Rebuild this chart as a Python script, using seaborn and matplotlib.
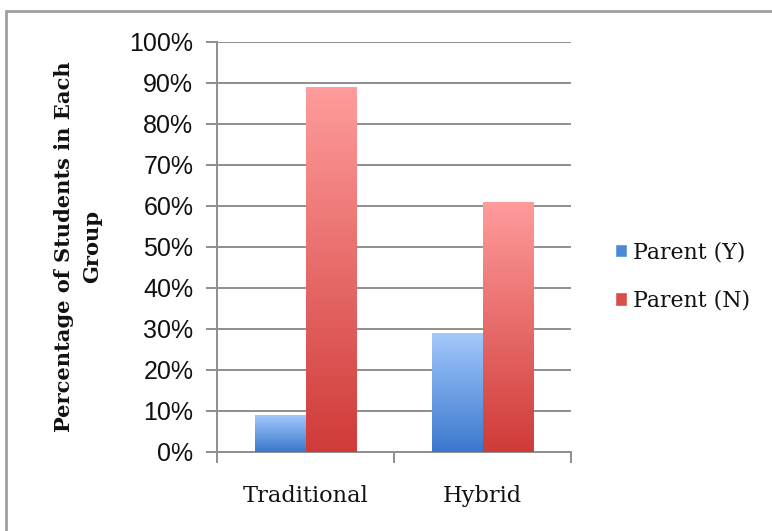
import numpy as np
import pandas as pd
import matplotlib
matplotlib.use("Agg")
import matplotlib.pyplot as plt
from matplotlib.patches import Patch
from matplotlib.lines import Line2D
from matplotlib.colors import LinearSegmentedColormap
from matplotlib.ticker import FuncFormatter, FixedLocator
import seaborn as sns

groups = ["Traditional", "Hybrid"]
series = ["Parent (Y)", "Parent (N)"]
parent_y = [9, 29]
parent_n = [89, 61]

df = pd.DataFrame({
    "group": groups * 2,
    "series": [series[0]] * 2 + [series[1]] * 2,
    "pct": parent_y + parent_n,
})

# top colour, bottom colour for the gradient fills
grad = {
    series[0]: ("#a3c8fb", "#3a78cd"),
    series[1]: ("#ff9c9c", "#cf3b38"),
}

sns.set_style("white")
fig = plt.figure(figsize=(7.72, 5.31), dpi=100)
ax = fig.add_axes([0.281, 0.149, 0.459, 0.772])

sns.barplot(data=df, x="group", y="pct", hue="series", order=groups,
            hue_order=series, width=0.575, gap=0, ax=ax, legend=False,
            palette=[grad[s][1] for s in series], saturation=1)

# swap flat fills for vertical gradients
for patch, s in zip(ax.patches, [series[0]] * 2 + [series[1]] * 2):
    x0, y0 = patch.get_x(), patch.get_y()
    w, h = patch.get_width(), patch.get_height()
    cmap = LinearSegmentedColormap.from_list("g", [grad[s][1], grad[s][0]])
    img = ax.imshow(np.linspace(0, 1, 256).reshape(-1, 1), cmap=cmap,
                    extent=[x0, x0 + w, y0, y0 + h], origin="lower",
                    aspect="auto", zorder=3)
    img.set_clip_path(patch)
    patch.set_facecolor("none")
    patch.set_edgecolor("none")
    patch.set_zorder(3)

ax.set_xlim(-0.5, 1.5)
ax.set_ylim(0, 100)
ax.set_yticks(range(0, 101, 10))
ax.yaxis.set_major_formatter(FuncFormatter(lambda v, p: f"{int(v)}%"))
ax.grid(axis="y", color="#8e8e8e", linewidth=1.4, zorder=0)
ax.set_axisbelow(True)

for side in ["top", "right"]:
    ax.spines[side].set_visible(False)
for side in ["left", "bottom"]:
    ax.spines[side].set_color("#8e8e8e")
    ax.spines[side].set_linewidth(1.4)

ax.tick_params(axis="y", length=8, width=1.4, color="#8e8e8e", pad=9,
               labelsize=18, left=True, labelcolor="#111111")
for lab in ax.get_yticklabels():
    lab.set_family("Liberation Sans")

ax.tick_params(axis="x", which="major", length=0, pad=24)
ax.xaxis.set_minor_locator(FixedLocator([-0.5, 0.5, 1.5]))
ax.tick_params(axis="x", which="minor", length=8, width=1.4,
               color="#8e8e8e", bottom=True)
for lab in ax.get_xticklabels():
    lab.set_family("DejaVu Serif")
    lab.set_fontsize(16.2)
    lab.set_color("#111111")

ax.set_xlabel("")
ax.set_ylabel("Percentage of Students in Each\nGroup", family="DejaVu Serif",
              fontweight="bold", fontsize=15.1, linespacing=1.5,
              color="#111111")
ax.yaxis.set_label_coords(-0.325, 0.5)

handles = [Patch(facecolor="#4f88d8", label=series[0]),
           Patch(facecolor="#d94d4a", label=series[1])]
fig.legend(handles=handles, loc="center left", bbox_to_anchor=(0.785, 0.479),
           frameon=False, prop={"family": "DejaVu Serif", "size": 15.8},
           handlelength=0.55, handleheight=0.55, handletextpad=0.3,
           labelspacing=1.2, borderaxespad=0, labelcolor="#111111")

# outer chart frame (top and left edges visible)
fig.add_artist(Line2D([5.5 / 772, 5.5 / 772], [0, 1 - 10.5 / 531],
                      color="#a0a0a0", linewidth=2))
fig.add_artist(Line2D([5.5 / 772, 1], [1 - 10.5 / 531, 1 - 10.5 / 531],
                      color="#a0a0a0", linewidth=2))

fig.savefig("out.png", dpi=100)
